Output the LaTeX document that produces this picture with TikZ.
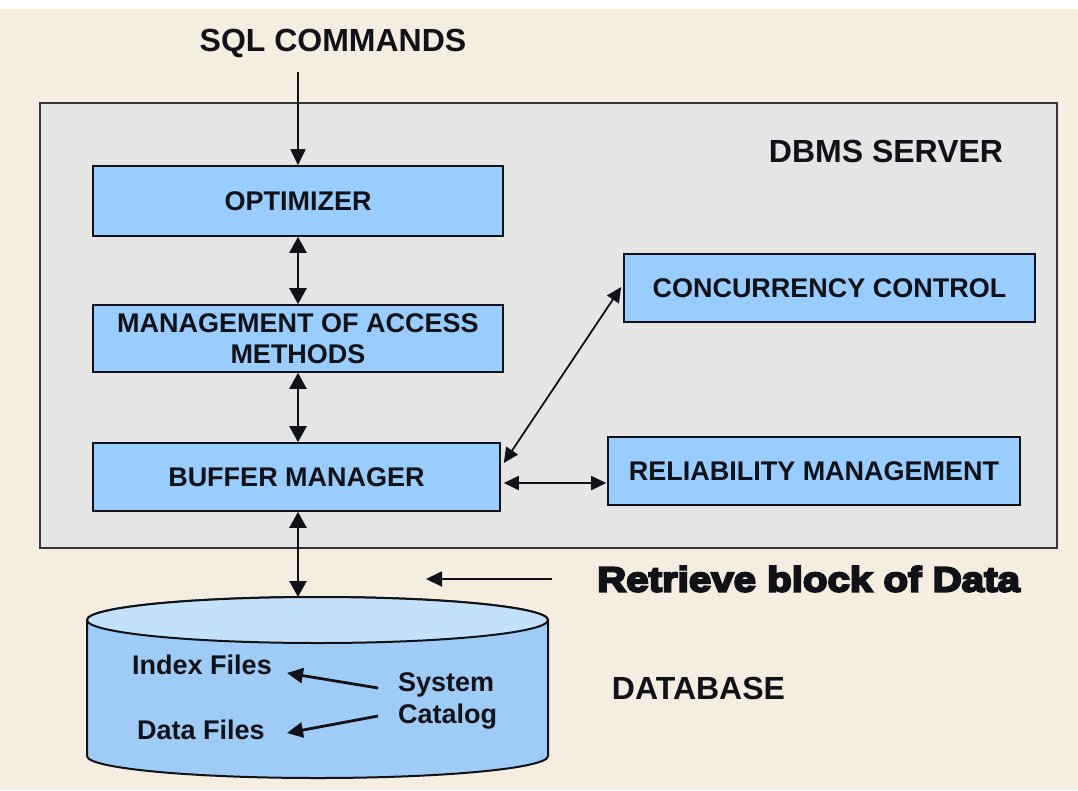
\documentclass[tikz,border=0pt]{standalone}
\usepackage{fontspec}
\setmainfont{Liberation Sans}
\newfontfamily\heavyfont{Liberation Sans}[BoldFeatures={FakeBold=6,FakeStretch=1.15}]
\usetikzlibrary{arrows.meta,calc}
\definecolor{bg}{HTML}{F6EDE1}
\definecolor{srv}{HTML}{E5E5E5}
\definecolor{boxblue}{HTML}{99CCFF}
\definecolor{dbbody}{HTML}{9FCCF6}
\definecolor{dbtopc}{HTML}{C4E1FB}
\definecolor{ink}{HTML}{111118}
\tikzset{
  blk/.style={draw=ink, line width=1.6pt, fill=boxblue, inner sep=0pt, text=ink,
    font=\fontsize{27}{31}\selectfont\bfseries, align=center},
  lbl/.style={inner sep=0pt, text=ink, font=\fontsize{27}{32}\selectfont\bfseries},
  big/.style={inner sep=0pt, text=ink, font=\fontsize{32}{36}\selectfont\bfseries},
  thick2/.style={draw=ink, line width=2.4pt, {Triangle[length=16pt,width=17pt]}-{Triangle[length=16pt,width=17pt]}},
  thin2/.style={draw=ink, line width=1.8pt, {Triangle[length=15pt,width=14pt]}-{Triangle[length=15pt,width=14pt]}},
  one/.style={draw=ink, line width=1.8pt, -{Triangle[length=16pt,width=15pt]}},
  onethick/.style={draw=ink, line width=2.8pt, -{Triangle[length=16pt,width=15pt]}}
}
\begin{document}
\begin{tikzpicture}[x=1pt,y=-1pt]
\useasboundingbox (0,0) rectangle (1078,790);
\fill[bg] (0,0) rectangle (1078,790);
\fill[white] (0,0) rectangle (1078,9);
% server box
\draw[draw=ink!85, line width=1.6pt, fill=srv] (40,103) rectangle (1057,548);
\node[big] (srvlbl) at (886,151) {DBMS SERVER};
\node[big] (sql) at (333,43) {SQL COMMANDS};
\coordinate (sqlstart) at (298,72);
% boxes
\node[blk, minimum width=410pt, minimum height=70pt] (opt) at (298,201) {OPTIMIZER};
\node[blk, minimum width=410pt, minimum height=67pt] (mam) at (298,338.5) {MANAGEMENT OF ACCESS\\METHODS};
\node[blk, minimum width=407pt, minimum height=68pt] (buf) at (296.5,477) {BUFFER MANAGER};
\node[blk, minimum width=411pt, minimum height=68pt] (cc) at (829.5,288) {CONCURRENCY CONTROL};
\node[blk, minimum width=412pt, minimum height=68pt] (rel) at (814,471) {RELIABILITY MANAGEMENT};
% database cylinder
\draw[draw=ink, line width=2pt, fill=dbbody] (87,620) -- (87,756) arc[start angle=180, end angle=0, x radius=230.5, y radius=22] -- (548,620) arc[start angle=0, end angle=-180, x radius=230.5, y radius=23] -- cycle;
\draw[draw=ink, line width=2pt, fill=dbtopc] (317.5,620) ellipse[x radius=230.5, y radius=23];
\coordinate (dbtop) at (298,597);
\node[big] (dblbl) at (698.5,688) {DATABASE};
\node[lbl] (idx) at (202,665) {Index Files};
\node[lbl] (dat) at (201,730) {Data Files};
\node[lbl, align=left, anchor=west] (sys) at (398,701) {System\\Catalog};
% retrieve
\node[inner sep=0pt, text=ink, anchor=west, font=\heavyfont\fontsize{35}{40}\selectfont\bfseries] (ret) at (597,579) {Retrieve block of Data};
\coordinate (retend) at (426,579);
% connectors
\draw[one] (sqlstart) -- (opt.north);
\draw[thick2] (opt.south) -- (mam.north);
\draw[thick2] (mam.south -| opt.south) -- (buf.north -| opt.south);
\draw[thick2] (buf.south -| opt.south) -- (dbtop);
\draw[thin2] ($(buf.east)+(3,-14)$) -- ($(cc.west)+(-2,-1)$);
\draw[thin2] ($(buf.east)+(3,6)$) -- ($(rel.west)+(-1,12)$);
\draw[one] ($(ret.west)+(-45,0)$) -- (retend);
\draw[onethick] ($(sys.west)+(-20,-13)$) -- ($(idx.east)+(15,8)$);
\draw[onethick] ($(sys.west)+(-20,15)$) -- ($(dat.east)+(22,3)$);
\end{tikzpicture}
\end{document}
